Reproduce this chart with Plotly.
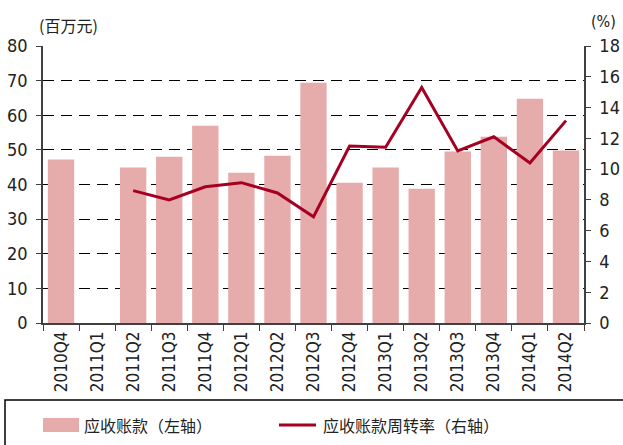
import plotly.graph_objects as go

categories = ["2010Q4", "2011Q1", "2011Q2", "2011Q3", "2011Q4", "2012Q1", "2012Q2",
              "2012Q3", "2012Q4", "2013Q1", "2013Q2", "2013Q3", "2013Q4", "2014Q1", "2014Q2"]
receivables = [47.2, None, 44.9, 48.0, 57.0, 43.4, 48.3, 69.4, 40.5, 44.9, 38.8, 49.5, 53.8, 64.8, 49.8]
turnover = [None, None, 8.6, 8.0, 8.85, 9.12, 8.45, 6.9, 11.5, 11.42, 15.3, 11.18, 12.1, 10.4, 13.15]

NUM_FONT = "Liberation Sans Narrow, DejaVu Sans Condensed, Arial Narrow, sans-serif"
CJK_FONT = "Noto Sans CJK SC, sans-serif"
BAR_COLOR = "#E6ABAB"
LINE_COLOR = "#A50021"
AXIS_COLOR = "#404040"
TXT = "#222222"

fig = go.Figure()
fig.add_trace(go.Bar(x=categories, y=receivables, name="应收账款（左轴）",
                     marker=dict(color=BAR_COLOR, line=dict(width=0)),
                     yaxis="y", showlegend=False))
fig.add_trace(go.Scatter(x=categories, y=turnover, name="应收账款周转率（右轴）",
                         mode="lines", line=dict(color=LINE_COLOR, width=3),
                         yaxis="y2", showlegend=False, connectgaps=False))

fig.update_layout(
    width=623, height=445,
    margin=dict(l=43, r=39, t=46, b=122, autoexpand=False),
    paper_bgcolor="white", plot_bgcolor="white",
    bargap=0.27,
    font=dict(family=NUM_FONT, color=TXT, size=17),
    xaxis=dict(
        type="category", showline=True, linecolor=AXIS_COLOR, linewidth=1.5,
        ticks="outside", tickson="boundaries", ticklen=6, tickcolor=AXIS_COLOR,
        tickangle=-90, tickfont=dict(family=NUM_FONT, size=17, color=TXT),
        showgrid=False, zeroline=False, automargin=False,
    ),
    yaxis=dict(
        range=[0, 80], dtick=10, showline=True, linecolor=AXIS_COLOR, linewidth=1.5,
        ticks="outside", ticklen=5, tickcolor=AXIS_COLOR, ticklabelstandoff=5,
        showgrid=True, gridcolor="black", gridwidth=1, griddash="11px,7px",
        zeroline=False, tickfont=dict(family=NUM_FONT, size=18, color=TXT),
        automargin=False,
    ),
    yaxis2=dict(
        range=[0, 18], dtick=2, overlaying="y", side="right",
        showline=True, linecolor=AXIS_COLOR, linewidth=1.5,
        ticks="outside", ticklen=5, tickcolor=AXIS_COLOR, ticklabelstandoff=5,
        showgrid=False, zeroline=False,
        tickfont=dict(family=NUM_FONT, size=18, color=TXT),
        automargin=False,
    ),
)

def px_x(p):
    return (p - 43) / 541

def px_y(p):
    return (323 - p) / 277

# unit labels
fig.add_annotation(text="(百万元)", xref="paper", yref="paper",
                   x=px_x(37), y=px_y(25), xanchor="left", yanchor="middle",
                   showarrow=False, font=dict(family=CJK_FONT, size=16, color=TXT))
fig.add_annotation(text="(%)", xref="paper", yref="paper",
                   x=px_x(618), y=px_y(21), xanchor="right", yanchor="middle",
                   showarrow=False, font=dict(family=NUM_FONT, size=16, color=TXT))

# legend box
fig.add_shape(type="rect", xref="paper", yref="paper",
              x0=px_x(5), x1=px_x(640), y0=px_y(400), y1=px_y(460),
              line=dict(color="black", width=1.5), fillcolor="rgba(0,0,0,0)")
fig.add_shape(type="rect", xref="paper", yref="paper",
              x0=px_x(43), x1=px_x(79), y0=px_y(432), y1=px_y(418),
              line=dict(width=0), fillcolor=BAR_COLOR)
fig.add_shape(type="line", xref="paper", yref="paper",
              x0=px_x(279), x1=px_x(316), y0=px_y(425), y1=px_y(425),
              line=dict(color=LINE_COLOR, width=3))
fig.add_annotation(text="应收账款（左轴）", xref="paper", yref="paper",
                   x=px_x(82), y=px_y(425), xanchor="left", yanchor="middle",
                   showarrow=False, font=dict(family=CJK_FONT, size=16, color=TXT))
fig.add_annotation(text="应收账款周转率（右轴）", xref="paper", yref="paper",
                   x=px_x(321), y=px_y(425), xanchor="left", yanchor="middle",
                   showarrow=False, font=dict(family=CJK_FONT, size=16, color=TXT))

fig.write_html("out.html", config={"displayModeBar": False},
               post_script="document.body.style.margin='0';document.body.style.padding='0';")
